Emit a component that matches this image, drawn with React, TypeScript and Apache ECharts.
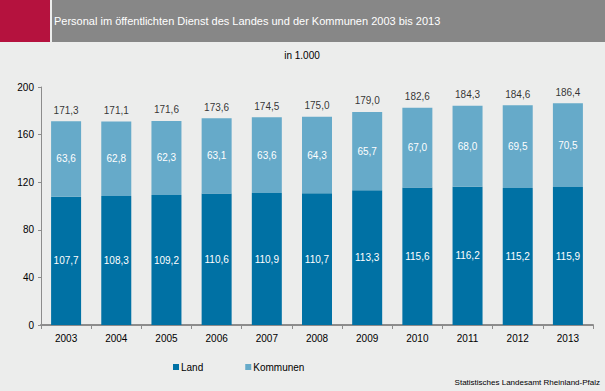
import React, { useEffect, useRef } from "react";
import * as echarts from "echarts";

const years = ["2003", "2004", "2005", "2006", "2007", "2008", "2009", "2010", "2011", "2012", "2013"];
const land = [107.7, 108.3, 109.2, 110.6, 110.9, 110.7, 113.3, 115.6, 116.2, 115.2, 115.9];
const kommunen = [63.6, 62.8, 62.3, 63.1, 63.6, 64.3, 65.7, 67.0, 68.0, 69.5, 70.5];
const totals = [171.3, 171.1, 171.6, 173.6, 174.5, 175.0, 179.0, 182.6, 184.3, 184.6, 186.4];
const yTicks = [0, 40, 80, 120, 160, 200];

const fmt = (v: number) => v.toFixed(1).replace(".", ",");
const FONT = "'Liberation Sans', Arial, sans-serif";

export default function App() {
  const ref = useRef<HTMLDivElement>(null);
  useEffect(() => {
    if (!ref.current) return;
    const chart = echarts.init(ref.current, undefined, { renderer: "svg" });
    chart.setOption({
      animation: false,
      backgroundColor: "#ECEDEC",
      textStyle: { fontFamily: FONT },
      graphic: [
        { type: "rect", shape: { x: 0, y: 0, width: 50, height: 42 }, style: { fill: "#B5123E" }, z: 0 },
        { type: "rect", shape: { x: 52, y: 0, width: 553, height: 42 }, style: { fill: "#878787" }, z: 0 },
        {
          type: "text",
          x: 54,
          y: 21,
          style: {
            text: "Personal im öffentlichten Dienst des Landes und der Kommunen 2003 bis 2013",
            fill: "#ffffff",
            font: `11px ${FONT}`,
            verticalAlign: "middle",
          },
          z: 1,
        },
        {
          type: "text",
          x: 302,
          y: 55,
          style: { text: "in 1.000", fill: "#000", font: `10px ${FONT}`, align: "center", verticalAlign: "middle" },
        },
        {
          type: "text",
          x: 600,
          y: 382,
          style: {
            text: "Statistisches Landesamt Rheinland-Pfalz",
            fill: "#000",
            font: `8px ${FONT}`,
            align: "right",
            verticalAlign: "middle",
          },
        },
      ],
      grid: { left: 41, right: 12, top: 87, bottom: 66 },
      legend: {
        data: ["Land", "Kommunen"],
        left: 173,
        top: 362,
        padding: 0,
        icon: "rect",
        itemWidth: 6,
        itemHeight: 6,
        itemGap: 42,
        textStyle: { fontSize: 10, color: "#000", fontFamily: FONT, padding: [0, 0, 0, -3] },
      },
      xAxis: {
        type: "category",
        data: years,
        axisLine: { lineStyle: { color: "#8C8C8C", width: 2 } },
        axisTick: { show: true, length: 4, lineStyle: { color: "#8C8C8C" } },
        axisLabel: { color: "#000", fontSize: 10, margin: 8, fontFamily: FONT },
      },
      yAxis: {
        type: "value",
        min: yTicks[0],
        max: yTicks[yTicks.length - 1],
        interval: 40,
        splitLine: { show: false },
        axisLine: { show: true, lineStyle: { color: "#8C8C8C", width: 1 } },
        axisTick: { show: true, length: 3, lineStyle: { color: "#8C8C8C" } },
        axisLabel: { color: "#000", fontSize: 10, margin: 7, fontFamily: FONT },
      },
      series: [
        {
          name: "Land",
          type: "bar",
          stack: "a",
          data: land,
          barWidth: 30,
          itemStyle: { color: "#0071A4" },
          label: { show: true, position: "inside", color: "#fff", fontSize: 10, formatter: (p: any) => fmt(p.value) },
        },
        {
          name: "Kommunen",
          type: "bar",
          stack: "a",
          data: kommunen,
          barWidth: 30,
          itemStyle: { color: "#66AAC9" },
          label: { show: true, position: "inside", color: "#fff", fontSize: 10, formatter: (p: any) => fmt(p.value) },
        },
        {
          name: "Summe",
          type: "scatter",
          data: totals,
          symbolSize: 0,
          silent: true,
          label: {
            show: true,
            position: "top",
            distance: 6,
            color: "#000",
            fontSize: 10,
            formatter: (p: any) => fmt(p.value),
          },
        },
      ],
    });
    return () => chart.dispose();
  }, []);
  return <div ref={ref} style={{ position: "fixed", left: 0, top: 0, width: 605, height: 391 }} />;
}
